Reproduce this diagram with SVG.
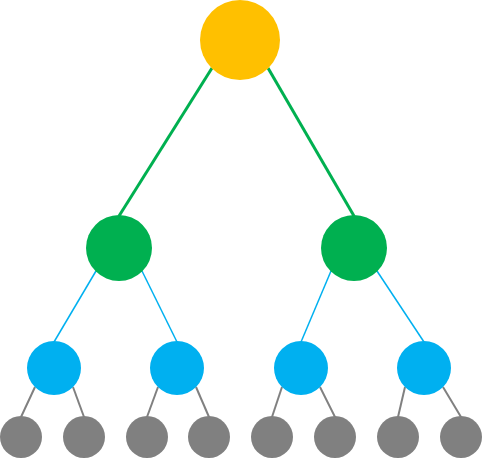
<svg xmlns="http://www.w3.org/2000/svg" width="482" height="458" viewBox="0 0 482 458">
<style>
.root{fill:#FFC000}
.l1{fill:#00B050}
.l2{fill:#00B0F0}
.l3{fill:#808080}
.e1{stroke:#00B050;stroke-width:3;fill:none}
.e2{stroke:#00B0F0;stroke-width:1.5;fill:none}
.e3{stroke:#808080;stroke-width:2;fill:none}
</style>
<rect width="482" height="458" fill="#fff"/>
<g id="connectors">
<line class="e1" x1="212" y1="68" x2="119" y2="216"/>
<line class="e1" x1="268" y1="68" x2="354" y2="216"/>
<line class="e2" x1="96" y1="271" x2="54" y2="342"/>
<line class="e2" x1="142" y1="271" x2="177" y2="342"/>
<line class="e2" x1="331" y1="271" x2="301" y2="342"/>
<line class="e2" x1="377" y1="271" x2="424" y2="342"/>
<line class="e3" x1="35" y1="387" x2="21" y2="417"/>
<line class="e3" x1="73" y1="387" x2="84" y2="417"/>
<line class="e3" x1="158" y1="387" x2="147" y2="417"/>
<line class="e3" x1="196" y1="387" x2="209" y2="417"/>
<line class="e3" x1="282" y1="387" x2="272" y2="417"/>
<line class="e3" x1="320" y1="387" x2="335" y2="417"/>
<line class="e3" x1="405" y1="387" x2="398" y2="417"/>
<line class="e3" x1="443" y1="387" x2="461" y2="417"/>
</g>
<g id="n0"><circle class="root" cx="240" cy="40" r="40"/></g>
<g id="n1"><circle class="l1" cx="119" cy="248" r="33"/></g>
<g id="n2"><circle class="l1" cx="354" cy="248" r="33"/></g>
<g id="n3"><circle class="l2" cx="54" cy="368" r="27"/></g>
<g id="n4"><circle class="l2" cx="177" cy="368" r="27"/></g>
<g id="n5"><circle class="l2" cx="301" cy="368" r="27"/></g>
<g id="n6"><circle class="l2" cx="424" cy="368" r="27"/></g>
<g id="n7"><circle class="l3" cx="21" cy="437" r="21"/></g>
<g id="n8"><circle class="l3" cx="84" cy="437" r="21"/></g>
<g id="n9"><circle class="l3" cx="147" cy="437" r="21"/></g>
<g id="n10"><circle class="l3" cx="209" cy="437" r="21"/></g>
<g id="n11"><circle class="l3" cx="272" cy="437" r="21"/></g>
<g id="n12"><circle class="l3" cx="335" cy="437" r="21"/></g>
<g id="n13"><circle class="l3" cx="398" cy="437" r="21"/></g>
<g id="n14"><circle class="l3" cx="461" cy="437" r="21"/></g>
</svg>
